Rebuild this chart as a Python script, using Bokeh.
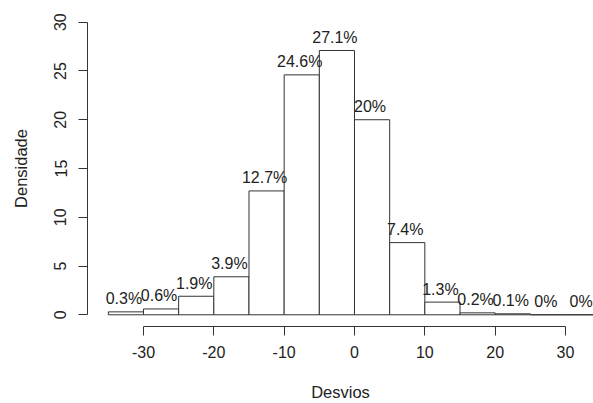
from bokeh.plotting import figure
from bokeh.models import ColumnDataSource, Range1d, FixedTicker
from bokeh.embed import file_html
from bokeh.resources import INLINE

# Data
bin_left = [-35, -30, -25, -20, -15, -10, -5, 0, 5, 10, 15, 20, 25, 30]
bin_right = [-30, -25, -20, -15, -10, -5, 0, 5, 10, 15, 20, 25, 30, 35]
density = [0.3, 0.6, 1.9, 3.9, 12.7, 24.6, 27.1, 20.0, 7.4, 1.3, 0.2, 0.1, 0.0, 0.0]
labels = ["0.3%", "0.6%", "1.9%", "3.9%", "12.7%", "24.6%", "27.1%", "20%",
          "7.4%", "1.3%", "0.2%", "0.1%", "0%", "0%"]
x_ticks = [-30, -20, -10, 0, 10, 20, 30]
x_tick_labels = ["-30", "-20", "-10", "0", "10", "20", "30"]
y_ticks = [0, 5, 10, 15, 20, 25, 30]

FONT = "Liberation Sans"
TXT = "#222222"

mids = [(a + b) / 2 for a, b in zip(bin_left, bin_right)]
src = ColumnDataSource(dict(left=bin_left, right=bin_right, top=density,
                            bottom=[0] * len(density), mid=mids, lab=labels))

p = figure(width=593, height=403, output_backend="svg", toolbar_location=None,
           x_range=Range1d(-37.96, 33.98), y_range=Range1d(-1.2, 31.2),
           min_border_left=87, min_border_right=0, min_border_top=10,
           min_border_bottom=76)
p.outline_line_color = None
p.xgrid.visible = False
p.ygrid.visible = False
p.background_fill_color = "white"

p.quad(left="left", right="right", top="top", bottom="bottom", source=src,
       fill_color="white", line_color="#333333", line_width=1)
p.text(x="mid", y="top", text="lab", source=src, text_align="center",
       text_baseline="alphabetic", x_offset=-2, y_offset=-13,
       text_font_size="16px", text_color=TXT, text_font={"value": FONT})

for ax in (p.xaxis[0], p.yaxis[0]):
    ax.axis_line_color = "#333333"
    ax.major_tick_line_color = "#333333"
    ax.minor_tick_line_color = None
    ax.major_tick_in = 0
    ax.major_tick_out = 9
    ax.major_label_text_font = FONT
    ax.major_label_text_font_size = "16px"
    ax.major_label_text_color = TXT
    ax.axis_label_text_font = FONT
    ax.axis_label_text_font_size = "16.5px"
    ax.axis_label_text_font_style = "normal"
    ax.axis_label_text_color = TXT

p.xaxis.ticker = FixedTicker(ticks=x_ticks)
p.xaxis.major_label_overrides = {t: s for t, s in zip(x_ticks, x_tick_labels)}
p.yaxis.ticker = FixedTicker(ticks=y_ticks)
p.xaxis.bounds = (-30, 30)
p.yaxis.bounds = (0, 30)
p.xaxis.axis_label = "Desvios"
p.yaxis.axis_label = "Densidade"
p.yaxis.major_label_orientation = "vertical"
p.xaxis.major_label_standoff = 10
p.yaxis.major_label_standoff = 12
p.xaxis.axis_label_standoff = 22
p.yaxis.axis_label_standoff = 22

open("out.html", "w").write(file_html(p, INLINE))
